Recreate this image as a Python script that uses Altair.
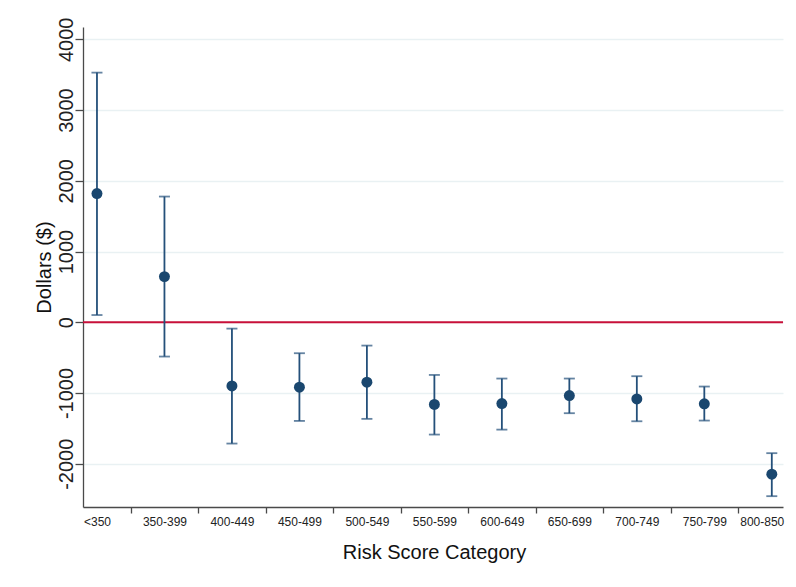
import json
import altair as alt
import pandas as pd

# ---- data ----
categories = ["<350", "350-399", "400-449", "450-499", "500-549", "550-599",
              "600-649", "650-699", "700-749", "750-799", "800-850"]
estimate = [1820, 645, -900, -919, -848, -1162, -1150, -1036, -1085, -1153, -2148]
ci_lower = [102, -485, -1715, -1395, -1366, -1588, -1518, -1286, -1400, -1390, -2459]
ci_upper = [3529, 1777, -90, -438, -330, -745, -796, -796, -763, -909, -1851]
y_ticks = [-2000, -1000, 0, 1000, 2000, 3000, 4000]
zero_line = [0]

df = pd.DataFrame({
    "idx": list(range(1, len(categories) + 1)),
    "cat": categories,
    "est": estimate,
    "lo": ci_lower,
    "hi": ci_upper,
})
zero_df = pd.DataFrame({"y": zero_line})

NAVY = "#1a476f"
BAR = "#24507a"
RED = "#c8103a"
AXIS = "#4a4a4a"
FONT = "Liberation Sans"

x_vals = [v / 2 for v in range(2, 23)]  # 1, 1.5, ..., 11
label_expr = ("datum.value % 1 === 0 ? " + json.dumps(categories) +
              "[datum.value - 1] : ''")

x_scale = alt.Scale(domain=[0.793, 11.166], nice=False, zero=False)
y_scale = alt.Scale(domain=[-2612, 4174], nice=False, zero=False)

x_axis = alt.Axis(
    values=x_vals,
    labelExpr=label_expr,
    labelOverlap=False,
    labelFlush=13,
    labelFlushOffset=12,
    labelFontSize=12,
    labelFont=FONT,
    labelColor="#222222",
    labelPadding=3,
    labelBaseline="top",
    tickSize=6,
    tickColor=AXIS,
    tickWidth=1.3,
    tickOpacity={"condition": {"test": "datum.value % 1 === 0", "value": 0}, "value": 1},
    domainColor=AXIS,
    domainWidth=1.3,
    grid=False,
    title="Risk Score Category",
    titleFont=FONT,
    titleFontSize=20,
    titleFontWeight="normal",
    titleColor="#111111",
    titleX=351,
    titleY=51,
    titleBaseline="alphabetic",
    titleAlign="center",
)

y_axis = alt.Axis(
    values=y_ticks,
    labelExpr="'' + datum.value",
    labelAngle=270,
    labelAlign="center",
    labelBaseline="alphabetic",
    labelFontSize=20,
    labelFont=FONT,
    labelColor="#222222",
    labelPadding=3,
    tickSize=8,
    tickColor=AXIS,
    tickWidth=1.3,
    domainColor=AXIS,
    domainWidth=1.3,
    grid=True,
    gridColor="#e9f1f3",
    gridWidth=1.5,
    title="Dollars ($)",
    titleFont=FONT,
    titleFontSize=20,
    titleFontWeight="normal",
    titleColor="#111111",
    titleAngle=270,
    titleX=-33,
    titleY=240,
    titleBaseline="alphabetic",
    titleAlign="center",
)

base = alt.Chart(df)

zero = alt.Chart(zero_df).mark_rule(color=RED, strokeWidth=1.8).encode(
    y=alt.Y("y:Q", scale=y_scale, axis=y_axis)
)

bars = base.mark_rule(color=BAR, strokeWidth=1.8).encode(
    x=alt.X("idx:Q", scale=x_scale, axis=x_axis),
    y=alt.Y("lo:Q", scale=y_scale, axis=y_axis),
    y2="hi:Q",
)

caps_lo = base.mark_tick(color=BAR, orient="horizontal", size=11, thickness=1.8).encode(
    x=alt.X("idx:Q", scale=x_scale, axis=x_axis),
    y=alt.Y("lo:Q", scale=y_scale, axis=y_axis),
)
caps_hi = base.mark_tick(color=BAR, orient="horizontal", size=11, thickness=1.8).encode(
    x=alt.X("idx:Q", scale=x_scale, axis=x_axis),
    y=alt.Y("hi:Q", scale=y_scale, axis=y_axis),
)

points = base.mark_point(filled=True, color=NAVY, opacity=1, size=120).encode(
    x=alt.X("idx:Q", scale=x_scale, axis=x_axis),
    y=alt.Y("est:Q", scale=y_scale, axis=y_axis),
)

chart = alt.layer(zero, bars, caps_lo, caps_hi, points).properties(
    width=700,
    height=480,
    autosize=alt.AutoSizeParams(type="none"),
    padding={"left": 75, "top": 19, "right": 4, "bottom": 60},
    background="white",
).configure_view(stroke=None)

chart.save("out.html", embed_options={"renderer": "svg", "actions": False})
